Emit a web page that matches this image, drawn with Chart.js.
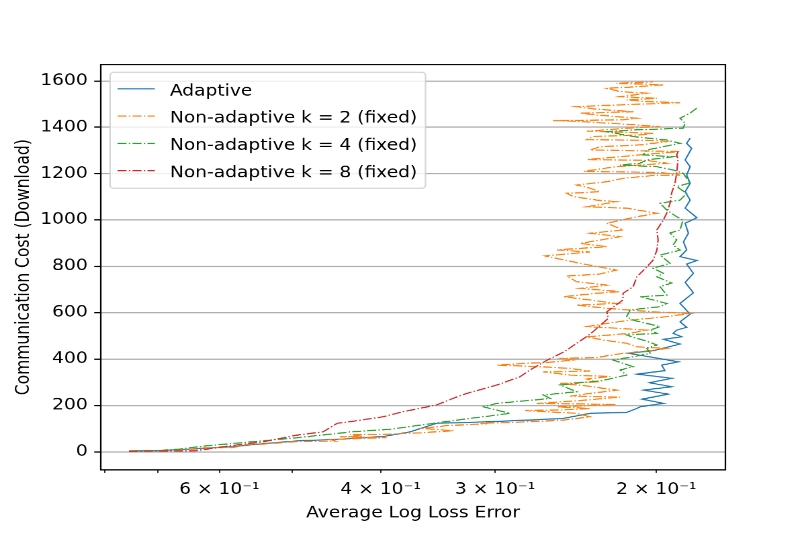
<!DOCTYPE html>
<html><head><meta charset="utf-8">
<script src="https://cdn.jsdelivr.net/npm/chart.js@4.4.1/dist/chart.umd.min.js"></script>
<style>
html,body{margin:0;padding:0;background:#fff;overflow:hidden;}
#wrap{position:absolute;left:0;top:0;width:600px;height:480px;transform:scale(1.343333,1.11875);transform-origin:0 0;}
</style></head><body>
<div id="wrap"><canvas id="c" width="600" height="480"></canvas></div>
<script>
const seriesLabels = ['Adaptive','Non-adaptive k = 2 (fixed)','Non-adaptive k = 4 (fixed)','Non-adaptive k = 8 (fixed)'];
const seriesColors = ['#1f77b4','#ff7f0e','#2ca02c','#d62728'];

const adaptiveLoss = [0.753,0.702,0.667,0.619,0.580,0.539,0.490,0.449,0.397,0.3714,0.3476,0.3087,0.2747,0.2528,0.2362,0.2155,0.210,0.2083,0.1964,0.2074,0.1940,0.2065,0.1924,0.2035,0.1924,0.210,0.1957,0.1973,0.1892,0.2015,0.2145,0.2015,0.1884,0.1964,0.1876,0.1917,0.190,0.1853,0.1884,0.1837,0.1884,0.1822,0.186,0.1822,0.1853,0.1806,0.1884,0.1853,0.1868,0.1845,0.186,0.1806,0.186,0.1837,0.186,0.1837,0.1853,0.1837,0.186,0.1830,0.1853,0.1837];
const adaptiveCost = [4,5,9,16,22,35,48,53,66,86,123,129,137,144,166,170,187,194,209,227,249,266,281,298,317,335,350,374,388,407,425,436,465,485,496,511,525,537,561,594,640,686,731,770,810,825,842,871,906,943,986,1010,1051,1086,1122,1158,1194,1230,1259,1309,1331,1353];

const k2Loss = [0.753,0.702,0.671,0.619,0.622,0.580,0.558,0.539,0.490,0.448,0.454,0.394,0.443,0.418,0.432,0.397,0.362,0.333,0.360,0.339,0.306,0.3115,0.278,0.2536,0.2362,0.2444,0.278,0.2528,0.2362,0.2568,0.2211,0.2701,0.2422,0.2191,0.2484,0.2362,0.2209,0.2402,0.2547,0.2324,0.2382,0.2246,0.2484,0.2658,0.2362,0.2484,0.2679,0.2987,0.2747,0.2634,0.2463,0.2528,0.2324,0.2173,0.2016,0.1948,0.2100,0.2154,0.2285,0.2382,0.2136,0.2048,0.2209,0.2382,0.2265,0.2136,0.1948,0.1837,0.2016,0.2265,0.2444,0.2211,0.2362,0.2526,0.2324,0.2191,0.2422,0.2265,0.2444,0.2505,0.2304,0.2211,0.2422,0.2646,0.2362,0.2568,0.2265,0.2422,0.2191,0.2362,0.2173,0.2265,0.2100,0.1997,0.2154,0.2382,0.2211,0.2324,0.2463,0.2505,0.2304,0.2362,0.2444,0.2265,0.2173,0.2016,0.1884,0.1981,0.2118,0.2304,0.2400,0.2211,0.2083,0.1948,0.2048,0.2211,0.2382,0.2191,0.2083,0.1981,0.1884,0.2173,0.2362,0.2304,0.2083,0.1948,0.1997,0.2211,0.2382,0.2345,0.2083,0.2016,0.2265,0.2382,0.2154,0.1981,0.2100,0.2422,0.2594,0.2173,0.2100,0.2324,0.2422,0.2118,0.2324,0.2444,0.2211,0.1884,0.2048,0.2154,0.1997,0.2191,0.2048,0.2191,0.2265,0.2100,0.1964,0.2211,0.2016];
const k2Cost = [4,5,11,12,18,18,32,33,45,46,53,61,65,67,74,75,82,91,101,113,121,123,129,136,151,166,178,181,187,194,204,209,221,236,240,252,266,286,295,302,314,325,331,345,348,360,367,374,383,385,396,403,407,425,438,446,453,468,482,496,511,525,533,540,554,568,583,597,604,619,633,640,655,669,684,691,705,719,734,758,767,784,813,845,862,871,885,899,928,943,957,986,1014,1029,1051,1057,1079,1086,1101,1115,1122,1137,1151,1165,1180,1192,1194,1205,1207,1208,1210,1230,1237,1245,1257,1259,1261,1273,1281,1288,1295,1300,1302,1316,1324,1338,1343,1345,1347,1360,1367,1374,1381,1383,1396,1403,1410,1425,1429,1432,1439,1453,1461,1467,1478,1489,1496,1506,1511,1518,1525,1532,1547,1554,1568,1575,1583,1590,1596];

const k4Loss = [0.753,0.679,0.619,0.561,0.5023,0.4461,0.4319,0.3906,0.3473,0.3253,0.2888,0.3089,0.2987,0.2612,0.2656,0.2443,0.2547,0.2422,0.230,0.2155,0.219,0.212,0.2175,0.223,0.212,0.2031,0.2048,0.1997,0.2067,0.212,0.2155,0.1997,0.2031,0.1981,0.212,0.2155,0.2136,0.1981,0.1948,0.2016,0.2083,0.1948,0.1981,0.1924,0.1997,0.1965,0.2016,0.1932,0.1981,0.1884,0.1918,0.190,0.1932,0.1884,0.1870,0.190,0.1948,0.1981,0.1884,0.1853,0.190,0.1837,0.187,0.1918,0.1997,0.2191,0.2083,0.2048,0.1918,0.2067,0.2048,0.1884,0.1948,0.212,0.2265,0.2136,0.187,0.186,0.1884,0.1837,0.1806];
const k4Cost = [3,7,26,41,58,79,86,97,125,140,166,194,209,230,245,259,288,298,306,331,353,367,382,396,410,425,446,461,482,494,504,511,525,540,568,583,612,626,640,655,669,676,712,728,755,770,792,813,849,870,892,914,944,957,1000,1014,1043,1072,1086,1115,1144,1160,1202,1216,1230,1237,1245,1259,1273,1281,1302,1331,1345,1360,1381,1388,1396,1417,1439,1461,1483];

const k8Loss = [0.753,0.638,0.584,0.5375,0.4937,0.4624,0.4461,0.4319,0.3976,0.3780,0.3476,0.3302,0.3220,0.2987,0.2817,0.2747,0.263,0.252,0.2385,0.2345,0.2257,0.2265,0.2175,0.2174,0.212,0.210,0.2048,0.2016,0.1997,0.1991,0.1997,0.1965,0.1948,0.1932,0.1924,0.1908,0.190,0.1894,0.190,0.1894];
const k8Cost = [2,4,26,43,72,86,123,130,151,173,202,237,252,288,324,353,396,432,496,518,576,604,655,684,712,755,798,827,870,914,957,1000,1030,1073,1117,1160,1203,1259,1281,1295];

const xTickValues = [0.8,0.7,0.6,0.5,0.4,0.3,0.2];
const xTickLabels = ['','','6 × 10⁻¹','','4 × 10⁻¹','3 × 10⁻¹','2 × 10⁻¹'];
const yTickValues = [0,200,400,600,800,1000,1200,1400,1600];

const FS = 13.89;
const FONT = "'DejaVu Sans'";
Chart.defaults.font.family = FONT;
Chart.defaults.font.size = FS;
Chart.defaults.color = '#000';

function pts(xs, ys){ return xs.map((x,i)=>({x:x, y:ys[i]})); }
const dashDot = [6.7,1.7,1.05,1.7];
const lossArrays = [adaptiveLoss,k2Loss,k4Loss,k8Loss];
const costArrays = [adaptiveCost,k2Cost,k4Cost,k8Cost];

const datasets = seriesLabels.map((lab,i)=>({
  label: lab,
  data: pts(lossArrays[i], costArrays[i]),
  borderColor: seriesColors[i],
  backgroundColor: seriesColors[i],
  borderWidth: 1.05,
  borderDash: i===0 ? [] : dashDot,
  pointRadius: 0,
  showLine: true,
  tension: 0,
  fill: false,
  order: 4 - i
}));

const framePlugin = {
  id: 'frame',
  afterDatasetsDraw(chart){
    const {ctx, chartArea:a} = chart;
    ctx.save();
    ctx.strokeStyle = '#000'; ctx.lineWidth = 1.11;
    ctx.strokeRect(a.left, a.top, a.right-a.left, a.bottom-a.top);
    ctx.restore();
  }
};

const legendPlugin = {
  id: 'mplLegend',
  afterDraw(chart){
    const ctx = chart.ctx, a = chart.chartArea;
    const x0 = a.left + 6.94, y0 = a.top + 6.94, w = 234.8, h = 103.8, r = 2.78;
    ctx.save();
    ctx.beginPath();
    ctx.moveTo(x0+r, y0); ctx.lineTo(x0+w-r, y0); ctx.arcTo(x0+w, y0, x0+w, y0+r, r);
    ctx.lineTo(x0+w, y0+h-r); ctx.arcTo(x0+w, y0+h, x0+w-r, y0+h, r);
    ctx.lineTo(x0+r, y0+h); ctx.arcTo(x0, y0+h, x0, y0+h-r, r);
    ctx.lineTo(x0, y0+r); ctx.arcTo(x0, y0, x0+r, y0, r); ctx.closePath();
    ctx.fillStyle = 'rgba(255,255,255,0.8)'; ctx.fill();
    ctx.strokeStyle = 'rgba(204,204,204,0.8)'; ctx.lineWidth = 1.11; ctx.stroke();
    chart.data.datasets.forEach((ds,i)=>{
      const base = y0 + 20.8 + i*24.4;
      const hy = base - 6;
      ctx.beginPath();
      ctx.setLineDash(ds.borderDash || []);
      ctx.strokeStyle = ds.borderColor; ctx.lineWidth = ds.borderWidth;
      ctx.moveTo(x0+5.56, hy); ctx.lineTo(x0+5.56+27.8, hy); ctx.stroke();
      ctx.setLineDash([]);
      ctx.fillStyle = '#000';
      ctx.font = FS + 'px ' + FONT;
      ctx.textBaseline = 'alphabetic'; ctx.textAlign = 'left';
      ctx.fillText(ds.label, x0 + 44.5, base);
    });
    ctx.restore();
  }
};

new Chart(document.getElementById('c'), {
  type: 'scatter',
  data: { datasets },
  plugins: [framePlugin, legendPlugin],
  options: {
    responsive: false,
    animation: false,
    devicePixelRatio: 2,
    events: [],
    layout: { padding: { top: 57.6, right: 60, bottom: 0, left: 0 } },
    plugins: { legend: { display: false }, tooltip: { enabled: false } },
    scales: {
      x: {
        type: 'logarithmic', reverse: true, position: 'bottom', bounds: 'data',
        min: 0.1681, max: 0.8085,
        afterBuildTicks: s => { s.ticks = xTickValues.map(v => ({ value: v })); },
        afterFit: s => { s.height = 60; },
        grid: { display: true, drawOnChartArea: false, drawTicks: true, tickLength: 2.78, tickColor: '#000', tickWidth: 0.83 },
        border: { display: false },
        ticks: { autoSkip: false, maxRotation: 0, minRotation: 0, padding: 6.8, color: '#000',
                 font: { family: FONT, size: FS },
                 callback: (v, i) => xTickLabels[i] },
        title: { display: true, text: 'Average Log Loss Error', color: '#000', font: { family: FONT, size: FS }, padding: { top: 0, bottom: 13 } }
      },
      y: {
        type: 'linear', position: 'left', bounds: 'data',
        min: -78, max: 1671,
        afterBuildTicks: s => { s.ticks = yTickValues.map(v => ({ value: v })); },
        afterFit: s => { s.width = 75; },
        grid: { display: true, drawOnChartArea: true, color: '#b0b0b0', lineWidth: 1.11, drawTicks: true, tickLength: 4.86, tickColor: '#000', tickWidth: 1.11 },
        border: { display: false },
        ticks: { autoSkip: false, padding: 4.86, color: '#000', font: { family: FONT, size: FS },
                 callback: v => String(v) },
        title: { display: true, text: 'Communication Cost (Download)', color: '#000', font: { family: FONT, size: FS }, padding: { top: 9.5, bottom: 0 } }
      }
    }
  }
});
</script>
</body></html>
